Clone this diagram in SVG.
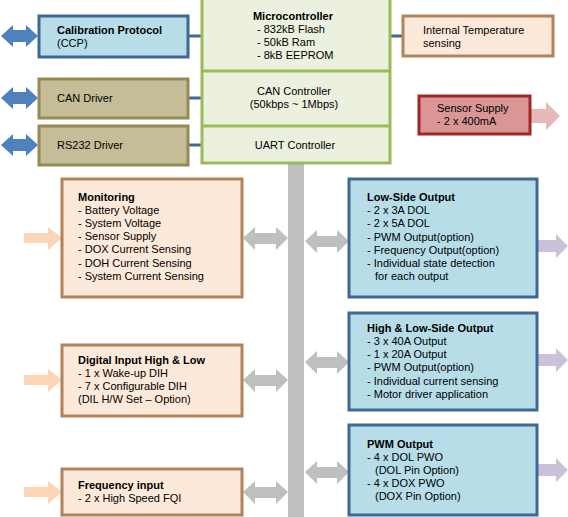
<svg xmlns="http://www.w3.org/2000/svg" width="568" height="517" viewBox="0 0 568 517">
<style>
text{font-family:"Liberation Sans",Arial,sans-serif;font-size:11px;fill:#000}
.b{font-weight:bold}
.mid{text-anchor:middle}
.blue{fill:#B7DDE8;stroke:#3E6896;stroke-width:3}
.tan{fill:#C4BD97;stroke:#948A54;stroke-width:3}
.peach{fill:#FDE9D9;stroke:#B3825A;stroke-width:3}
.red{fill:#D99694;stroke:#A0262A;stroke-width:3}
.green{fill:#EBF1DE;stroke:#9BBB59;stroke-width:3}
.link{stroke:#3E6896;stroke-width:3}
.ab{fill:#4F81BD}
.ag{fill:#BFBFBF}
.ap{fill:#FBD5B5}
.au{fill:#CCC1DA}
.ak{fill:#E6B9B8}
</style>
<rect width="568" height="517" fill="#fff"/>
<g id="connectors">
<rect x="288" y="160" width="16" height="357" fill="#BFBFBF"/>
<line class="link" x1="188" y1="36" x2="202" y2="36"/>
<line class="link" x1="188" y1="98" x2="202" y2="98"/>
<line class="link" x1="188" y1="145" x2="202" y2="145"/>
<line class="link" x1="390" y1="36" x2="403" y2="36"/>
<polygon class="ab" points="1,36 13,25 13,30 26,30 26,25 38,36 26,47 26,42 13,42 13,47"/>
<polygon class="ab" points="1,98 13,87 13,92 26,92 26,87 38,98 26,109 26,104 13,104 13,109"/>
<polygon class="ab" points="1,145 13,134 13,139 26,139 26,134 38,145 26,156 26,151 13,151 13,156"/>
<polygon class="ak" points="530,109 546,109 546,102 560,116 546,130 546,123 530,123"/>
<polygon class="ap" points="24,233 48,233 48,227 62,238 48,250 48,243 24,243"/>
<polygon class="ap" points="24,375 48,375 48,369 62,380 48,392 48,385 24,385"/>
<polygon class="ap" points="24,487 48,487 48,481 62,492 48,504 48,497 24,497"/>
<polygon class="ag" points="243,238 255,227 255,233 276,233 276,227 288,238 276,250 276,244 255,244 255,250"/>
<polygon class="ag" points="243,380 255,369 255,375 276,375 276,369 288,380 276,392 276,386 255,386 255,392"/>
<polygon class="ag" points="243,492 255,481 255,487 276,487 276,481 288,492 276,504 276,498 255,498 255,504"/>
<polygon class="ag" points="305,241 317,230 317,236 337,236 337,230 349,241 337,253 337,247 317,247 317,253"/>
<polygon class="ag" points="305,362 317,351 317,357 337,357 337,351 349,362 337,374 337,368 317,368 317,374"/>
<polygon class="ag" points="305,472 317,461 317,467 337,467 337,461 349,472 337,484 337,478 317,478 317,484"/>
<polygon class="au" points="538,240 556,240 556,234 568,246 556,258 556,252 538,252"/>
<polygon class="au" points="538,354 556,354 556,348 568,360 556,372 556,366 538,366"/>
<polygon class="au" points="538,464 556,464 556,458 568,470 556,482 556,476 538,476"/>
</g>
<g id="microcontroller">
<rect class="green" x="202" y="-2" width="188" height="165"/>
<line x1="202" y1="71" x2="390" y2="71" stroke="#9BBB59" stroke-width="3"/>
<line x1="202" y1="126" x2="390" y2="126" stroke="#9BBB59" stroke-width="3"/>
<text class="b mid" x="293" y="20">Microcontroller</text>
<text x="257" y="33">- 832kB Flash</text>
<text x="257" y="46">- 50kB Ram</text>
<text x="257" y="59">- 8kB EEPROM</text>
<text class="mid" x="294" y="95">CAN Controller</text>
<text class="mid" x="294" y="108">(50kbps ~ 1Mbps)</text>
<text class="mid" x="295" y="149">UART Controller</text>
</g>
<g id="ccp">
<rect class="blue" x="39" y="16" width="149" height="41"/>
<text class="b" x="57" y="34">Calibration Protocol</text>
<text x="57" y="47">(CCP)</text>
</g>
<g id="can-driver">
<rect class="tan" x="39" y="79" width="149" height="39"/>
<text x="57" y="102">CAN Driver</text>
</g>
<g id="rs232-driver">
<rect class="tan" x="39" y="126" width="149" height="39"/>
<text x="57" y="149">RS232 Driver</text>
</g>
<g id="temp">
<rect class="peach" x="403" y="16" width="150" height="40"/>
<text x="423" y="34">Internal Temperature</text>
<text x="423" y="47">sensing</text>
</g>
<g id="sensor-supply">
<rect class="red" x="419" y="96" width="111" height="38"/>
<text x="437" y="112">Sensor Supply</text>
<text x="437" y="125">- 2 x 400mA</text>
</g>
<g id="monitoring">
<rect class="peach" x="62" y="179" width="180" height="118"/>
<text class="b" x="78" y="201">Monitoring</text>
<text x="78" y="214">- Battery Voltage</text>
<text x="78" y="227">- System Voltage</text>
<text x="78" y="240">- Sensor Supply</text>
<text x="78" y="253">- DOX Current Sensing</text>
<text x="78" y="267">- DOH Current Sensing</text>
<text x="78" y="280">- System Current Sensing</text>
</g>
<g id="digital-input">
<rect class="peach" x="62" y="345" width="180" height="71"/>
<text class="b" x="78" y="364">Digital Input High &amp; Low</text>
<text x="78" y="377">- 1 x Wake-up DIH</text>
<text x="78" y="390">- 7 x Configurable DIH</text>
<text x="78" y="403">(DIL H/W Set – Option)</text>
</g>
<g id="frequency-input">
<rect class="peach" x="62" y="469" width="180" height="46"/>
<text class="b" x="78" y="489">Frequency input</text>
<text x="78" y="502">- 2 x High Speed FQI</text>
</g>
<g id="low-side">
<rect class="blue" x="349" y="179" width="188" height="118"/>
<text class="b" x="367" y="201">Low-Side Output</text>
<text x="367" y="214">- 2 x 3A DOL</text>
<text x="367" y="227">- 2 x 5A DOL</text>
<text x="367" y="241">- PWM Output(option)</text>
<text x="367" y="254">- Frequency Output(option)</text>
<text x="367" y="267">- Individual state detection</text>
<text x="375" y="280">for each output</text>
</g>
<g id="high-low-side">
<rect class="blue" x="349" y="313" width="188" height="97"/>
<text class="b" x="367" y="332">High &amp; Low-Side Output</text>
<text x="367" y="345">- 3 x 40A Output</text>
<text x="367" y="358">- 1 x 20A Output</text>
<text x="367" y="371">- PWM Output(option)</text>
<text x="367" y="385">- Individual current sensing</text>
<text x="367" y="398">- Motor driver application</text>
</g>
<g id="pwm-output">
<rect class="blue" x="349" y="425" width="188" height="90"/>
<text class="b" x="367" y="448">PWM Output</text>
<text x="367" y="461">- 4 x DOL PWO</text>
<text x="375" y="474">(DOL Pin Option)</text>
<text x="367" y="487">- 4 x DOX PWO</text>
<text x="375" y="500">(DOX Pin Option)</text>
</g>
</svg>
